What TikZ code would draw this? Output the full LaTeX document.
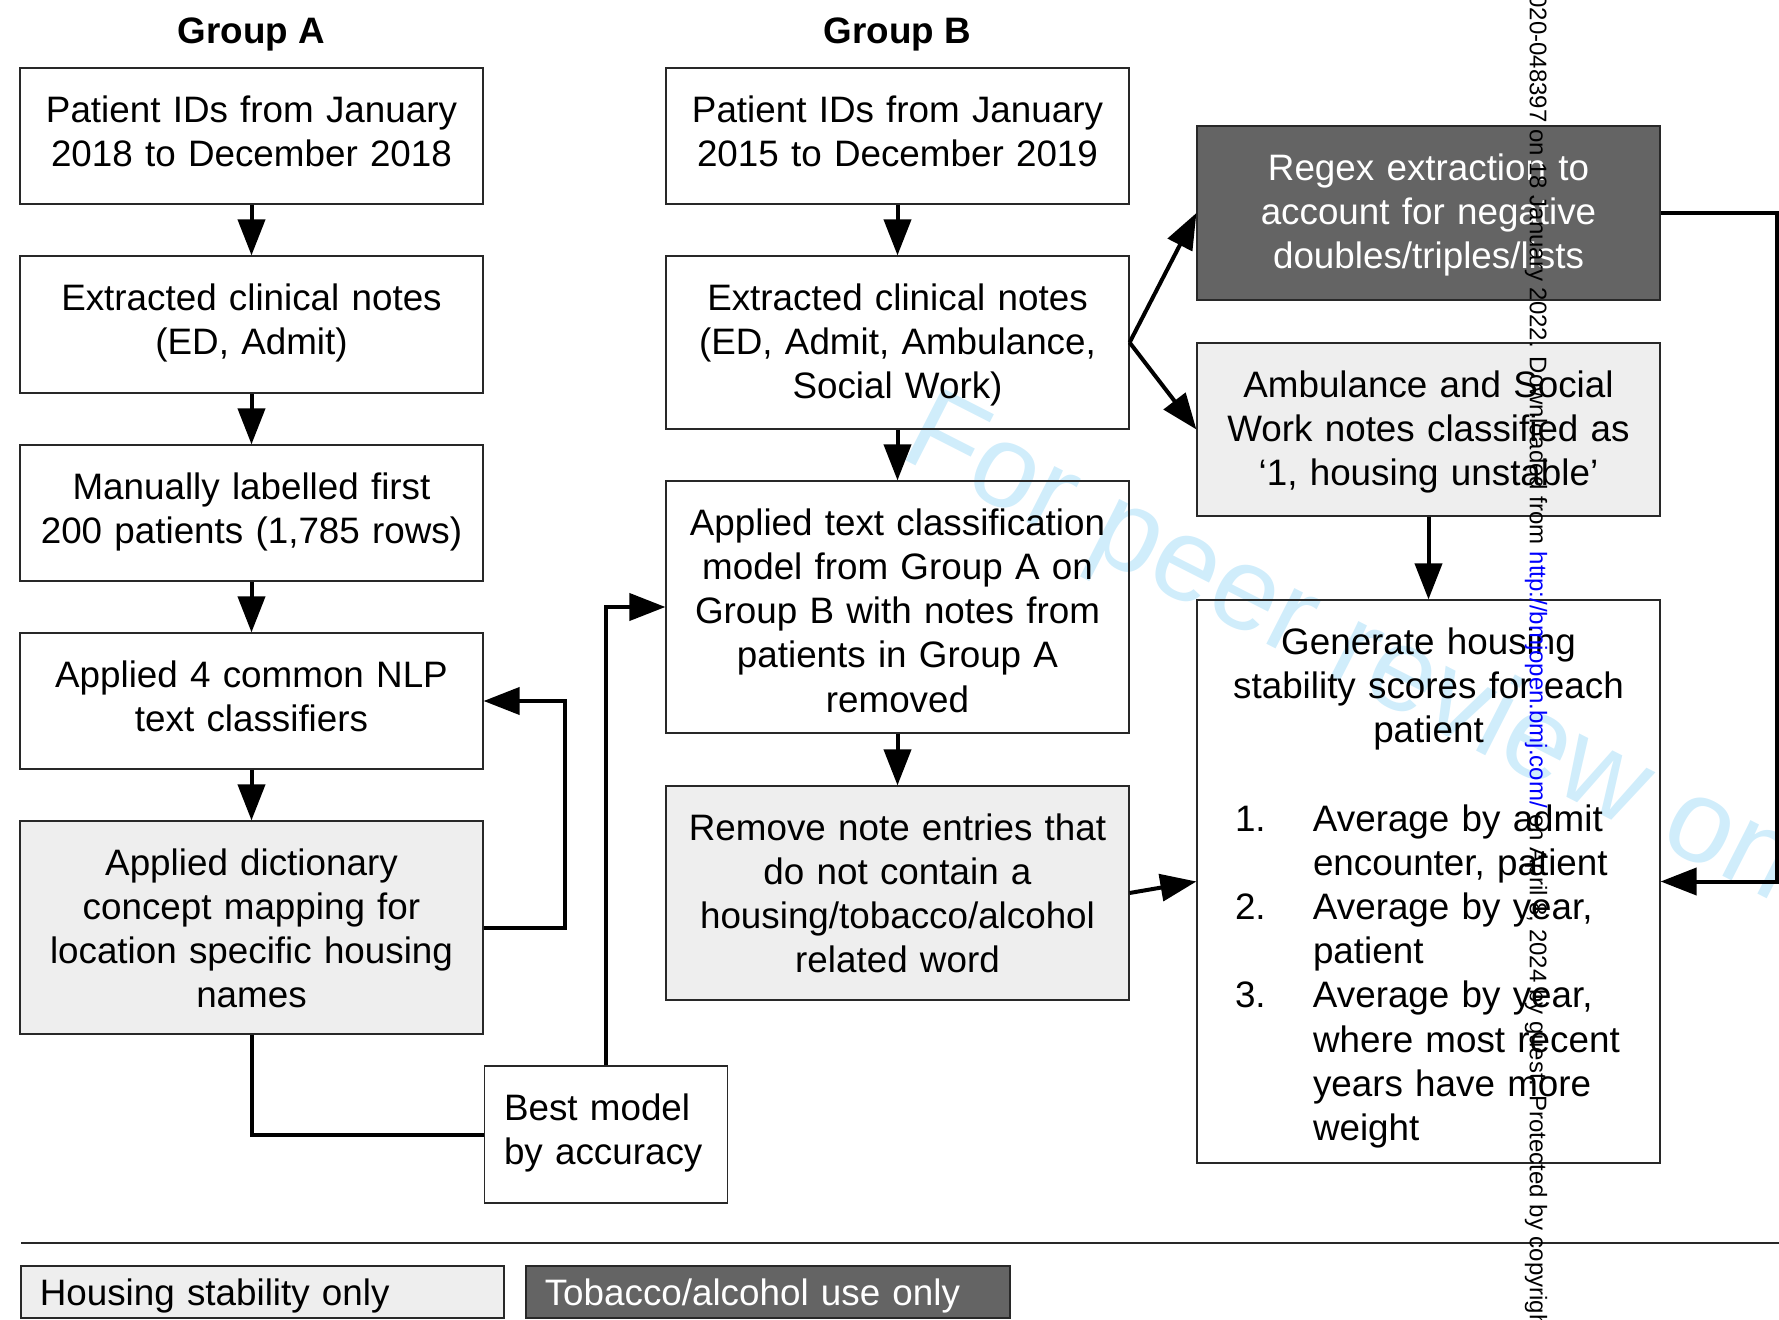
\documentclass[tikz,border=0pt]{standalone}
\usepackage{fontspec}
\setmainfont{Liberation Sans}
\usepackage{tikz}
\usetikzlibrary{arrows.meta}
\definecolor{lightbox}{RGB}{238,238,238}
\definecolor{darkbox}{RGB}{100,100,100}
\definecolor{boxline}{RGB}{40,40,40}
\definecolor{watermark}{RGB}{208,237,251}
\newcommand{\flowfont}{\fontsize{18.4}{22.1}\selectfont}
\newcommand{\scoreitem}[2]{\par\hangindent=42.25pt\hangafter=1\noindent\makebox[42.25pt][l]{\hspace{3.25pt}#1}#2\par}

\begin{document}
\begin{tikzpicture}[x=0.5pt,y=-0.5pt,
	stepbox/.style={draw=boxline, line width=0.6pt, align=center, font=\flowfont, text width=227.5pt, inner xsep=2pt, inner ysep=0pt, text height=27.2pt},
	boxdepth/.style={text depth=#1},
	flow/.style={line width=2pt, -{Triangle[length=18pt,width=13.5pt]}},
	plain/.style={line width=2pt},
	keybox/.style={draw=boxline, line width=0.6pt, align=left, font=\flowfont, text width=222.7pt, inner xsep=9.4pt, inner ysep=0pt, text height=19.6pt, text depth=6.4pt}]
	\useasboundingbox (0,0) rectangle (1779,1320);
	% watermark behind everything
	\node[text=watermark, font=\fontsize{59}{64}\selectfont, rotate=-27, anchor=base west] (wmark) at (891,453) {For peer review only};
	
	% group titles
	\node[font=\bfseries\flowfont] (titleA) at (251.5,34.5) {Group A};
	\node[font=\bfseries\flowfont] (titleB) at (897.5,34.5) {Group B};
	
	% group A
	\node[stepbox, boxdepth=40.8pt] (idsA) at (251.5,136) {Patient IDs from January\\2018 to December 2018};
	\node[stepbox, boxdepth=41.3pt] (notesA) at (251.5,324.5) {Extracted clinical notes\\(ED, Admit)};
	\node[stepbox, boxdepth=40.8pt] (labelA) at (251.5,513) {Manually labelled first\\200 patients (1,785 rows)};
	\node[stepbox, boxdepth=40.8pt] (nlpA) at (251.5,701) {Applied 4 common NLP\\text classifiers};
	\node[stepbox, boxdepth=79.3pt, fill=lightbox] (dictA) at (251.5,927.5) {Applied dictionary\\concept mapping for\\location specific housing\\names};
	\node[stepbox, boxdepth=41.3pt, align=left, text width=102pt, inner xsep=9.75pt] (best) at (606,1134.5) {Best model\\by accuracy};
	
	% group B
	\node[stepbox, boxdepth=40.8pt] (idsB) at (897.5,136) {Patient IDs from January\\2015 to December 2019};
	\node[stepbox, boxdepth=59.3pt] (notesB) at (897.5,342.5) {Extracted clinical notes\\(ED, Admit, Ambulance,\\Social Work)};
	\node[stepbox, boxdepth=98.8pt] (applyB) at (897.5,607) {Applied text classification\\model from Group A on\\Group B with notes from\\patients in Group A\\removed};
	\node[stepbox, boxdepth=79.8pt, fill=lightbox] (removeB) at (897.5,893) {Remove note entries that\\do not contain a\\housing/tobacco/alcohol\\related word};
	
	% right column
	\node[stepbox, boxdepth=59.8pt, fill=darkbox, text=white] (regex) at (1428.5,213) {Regex extraction to\\account for negative\\doubles/triples/lists};
	\node[stepbox, boxdepth=59.3pt, fill=lightbox] (ambul) at (1428.5,429.5) {Ambulance and Social\\Work notes classified as\\‘1, housing unstable’};
	\node[stepbox, boxdepth=254.3pt, text width=200pt, inner xsep=15.75pt, align=left] (score) at (1428.5,881.5) {%
		{\centering Generate housing\\stability scores for each\\patient\par}%
		\vspace{22.1pt}%
		\scoreitem{1.}{Average by admit\newline encounter, patient}%
		\scoreitem{2.}{Average by year,\newline patient}%
		\scoreitem{3.}{Average by year,\newline where most recent\newline years have more\newline weight}};
	
	% arrows
	\foreach \from/\to in {idsA/notesA, notesA/labelA, labelA/nlpA, nlpA/dictA, idsB/notesB, notesB/applyB, applyB/removeB, ambul/score}
		\draw[flow] (\from) -- (\to);
	\draw[flow] (notesB.east) -- (regex.west);
	\draw[flow] (notesB.east) -- (ambul.west);
	\draw[flow] (removeB.east) -- (score.west);
	\draw[flow] (dictA.east) -- ++(81,0) |- (nlpA.east);
	\draw[plain] (dictA.south) |- (best.west);
	\draw[flow] (best.north) |- (applyB.west);
	\draw[flow] (regex.east) -- ++(116,0) |- (score.east);
	
	% legend
	\draw[boxline, line width=0.8pt] (21,1243) -- (1779,1243);
	\node[keybox, fill=lightbox] (keyHousing) at (262.5,1292) {Housing stability only};
	\node[keybox, fill=darkbox, text=white, text width=223.2pt] (keyTobacco) at (768,1292) {Tobacco/alcohol use only};
	
	% side stamp on top
	\node[font=\fontsize{12}{14}\selectfont, rotate=-90, anchor=west, inner sep=0pt] (stamp) at (1536,-6) {020-048397 on 18 January 2022. Downloaded from \textcolor{blue}{http://bmjopen.bmj.com/} on April 8, 2024 by guest. Protected by copyright.};
\end{tikzpicture}
\end{document}
